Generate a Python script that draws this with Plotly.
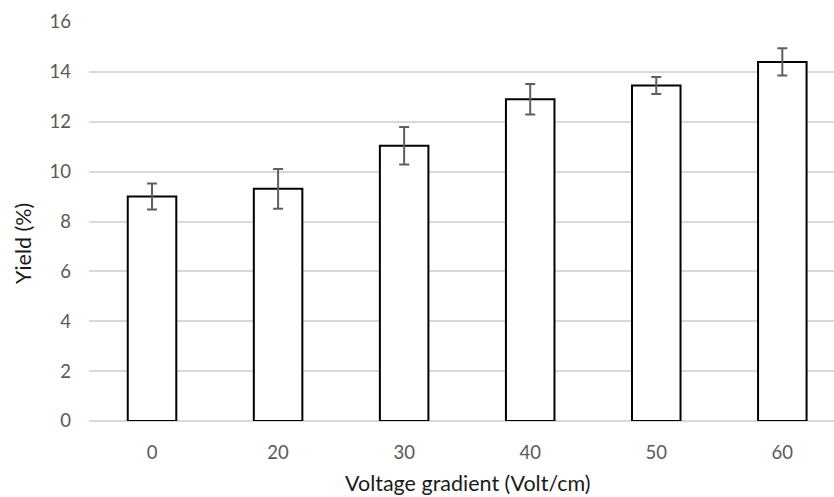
import plotly.graph_objects as go

categories = ["0", "20", "30", "40", "50", "60"]
yield_pct = [9.0, 9.31, 11.04, 12.9, 13.45, 14.4]
yield_err = [0.52, 0.8, 0.75, 0.61, 0.34, 0.55]
y_ticks = [0, 2, 4, 6, 8, 10, 12, 14, 16]

FONT = "Lato"
fig = go.Figure()
fig.add_trace(go.Bar(
    x=categories, y=yield_pct,
    width=0.385,
    marker=dict(color="white", line=dict(color="black", width=2)),
    error_y=dict(type="data", array=yield_err, visible=True,
                 color="#5f5f5f", thickness=2, width=5),
))
fig.update_layout(
    width=834, height=497,
    margin=dict(l=89, r=0, t=22, b=76),
    paper_bgcolor="white", plot_bgcolor="white",
    showlegend=False,
    font=dict(family=FONT, size=18, color="#595959"),
    xaxis=dict(type="category", range=[-0.5, 5.41], showgrid=False,
               showline=False, zeroline=False, ticks="",
               ticklabelstandoff=18,
               tickfont=dict(family=FONT, size=18.5, color="#595959")),
    yaxis=dict(range=[0, 16], tickvals=y_ticks, showgrid=True,
               gridcolor="#d9d9d9", gridwidth=1.5,
               zeroline=True, zerolinecolor="#d9d9d9", zerolinewidth=1.5,
               showline=False, ticks="", ticklabelstandoff=17,
               tickfont=dict(family=FONT, size=18.5, color="#595959")),
    annotations=[
        dict(text="Voltage gradient (Volt/cm)", xref="paper", yref="paper",
             x=(468 - 89) / (834 - 89), y=-(483 - 421) / (421 - 22),
             xanchor="center", yanchor="middle", showarrow=False,
             font=dict(family=FONT, size=21.5, color="#1a1a1a")),
        dict(text="Yield (%)", xref="paper", yref="paper",
             x=-(89 - 23) / (834 - 89), y=(421 - 244) / (421 - 22),
             xanchor="center", yanchor="middle", showarrow=False, textangle=-90,
             font=dict(family=FONT, size=21.5, color="#1a1a1a")),
    ],
)
fig.write_html("out.html")
